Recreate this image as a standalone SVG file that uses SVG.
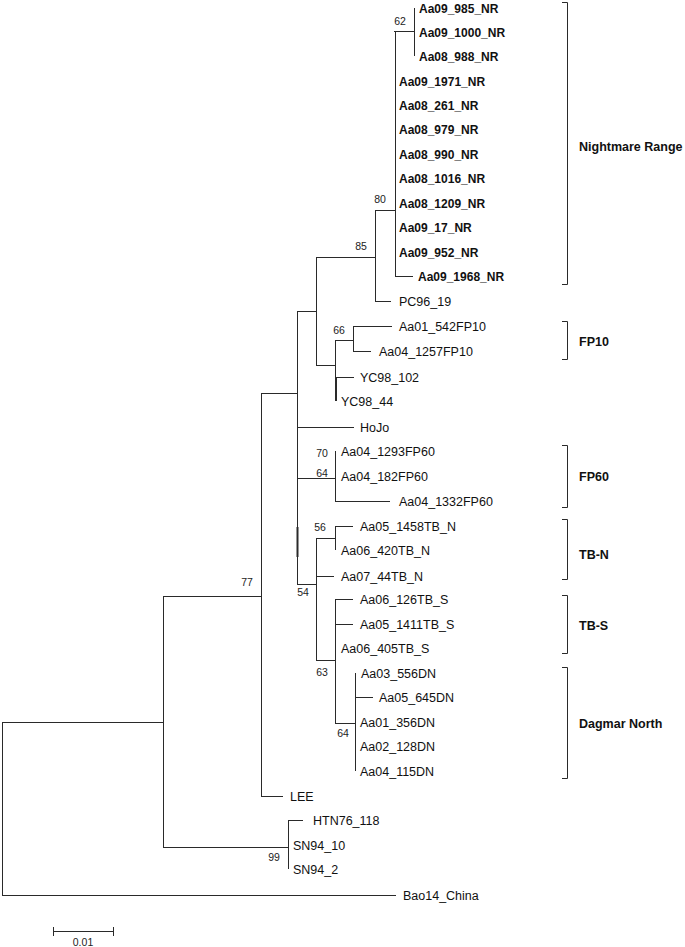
<svg xmlns="http://www.w3.org/2000/svg" width="685" height="947" viewBox="0 0 685 947">
<style>
.e{stroke:#2a2a2a;stroke-width:1;fill:none}
.t{font-family:"Liberation Sans",Arial,sans-serif;font-size:12.5px;fill:#111}
.b{font-family:"Liberation Sans",Arial,sans-serif;font-size:12px;font-weight:bold;fill:#111}
.s{font-family:"Liberation Sans",Arial,sans-serif;font-size:10.5px;fill:#222;text-anchor:middle}
.g{font-family:"Liberation Sans",Arial,sans-serif;font-size:12.5px;font-weight:bold;fill:#111}
</style>
<rect width="685" height="947" fill="#fff"/>
<g id="connectors" class="e">
<path d="M414.5,8V56M394,31.5H414.5"/>
<path d="M395.5,31V276M395,276.5H413M375,210.5H395.5"/>
<path d="M375.5,210V301M375,301.5H391M316,257.5H375.5"/>
<path d="M316.5,257V365M297,311.5H316.5"/>
<path d="M335.5,340V389M316,365.5H335.5"/>
<path d="M336,377V401" style="stroke-width:2"/>
<path d="M336,377.5H354"/>
<path d="M353.5,326V351M335,340.5H353.5M353,326.5H392M353,351.5H371"/>
<path d="M297.5,311V584M261,393.5H297.5M297,427.5H354"/>
<path d="M297.5,527V557" style="stroke-width:2"/>
<path d="M335.5,451V501M297,478.5H335.5M335,501.5H390"/>
<path d="M297,584.5H316.5M316.5,538V660"/>
<path d="M316,538.5H335.5M335.5,526V550M335,526.5H353M316,576.5H334"/>
<path d="M316,660.5H335.5M335.5,599V723M335,599.5H353M335,624.5H353"/>
<path d="M335,723.5H355.5M355.5,673V771M355,697.5H373"/>
<path d="M261.5,393V796M261,796.5H283M163,596.5H261.5"/>
<path d="M288.5,820V869M288,820.5H303M163,847.5H288.5"/>
<path d="M163.5,596V847M2,722.5H163.5"/>
<path d="M2.5,722V895M2,895.5H396"/>
</g>
<g id="leaves-nr">
<text class="b" x="419" y="12.5">Aa09_985_NR</text>
<text class="b" x="419" y="36.5">Aa09_1000_NR</text>
<text class="b" x="419" y="60.5">Aa08_988_NR</text>
<text class="b" x="399" y="85.5">Aa09_1971_NR</text>
<text class="b" x="399" y="109.5">Aa08_261_NR</text>
<text class="b" x="399" y="133.5">Aa08_979_NR</text>
<text class="b" x="399" y="158.5">Aa08_990_NR</text>
<text class="b" x="399" y="182.5">Aa08_1016_NR</text>
<text class="b" x="399" y="207.5">Aa08_1209_NR</text>
<text class="b" x="399" y="231.5">Aa09_17_NR</text>
<text class="b" x="399" y="256.5">Aa09_952_NR</text>
<text class="b" x="418" y="280.5">Aa09_1968_NR</text>
</g>
<g id="leaves">
<text class="t" x="399" y="305.5">PC96_19</text>
<text class="t" x="399" y="330.5">Aa01_542FP10</text>
<text class="t" x="379" y="355.5">Aa04_1257FP10</text>
<text class="t" x="360" y="381.5">YC98_102</text>
<text class="t" x="341" y="405.5">YC98_44</text>
<text class="t" x="360" y="431.5">HoJo</text>
<text class="t" x="341" y="455.5">Aa04_1293FP60</text>
<text class="t" x="341" y="480.5">Aa04_182FP60</text>
<text class="t" x="399" y="505.5">Aa04_1332FP60</text>
<text class="t" x="360" y="530.5">Aa05_1458TB_N</text>
<text class="t" x="341" y="554.5">Aa06_420TB_N</text>
<text class="t" x="341" y="580.5">Aa07_44TB_N</text>
<text class="t" x="360" y="603.5">Aa06_126TB_S</text>
<text class="t" x="360" y="628.5">Aa05_1411TB_S</text>
<text class="t" x="341" y="652.5">Aa06_405TB_S</text>
<text class="t" x="361" y="677.5">Aa03_556DN</text>
<text class="t" x="379" y="701.5">Aa05_645DN</text>
<text class="t" x="360" y="726.5">Aa01_356DN</text>
<text class="t" x="360" y="750.5">Aa02_128DN</text>
<text class="t" x="360" y="775.5">Aa04_115DN</text>
<text class="t" x="290" y="800.5">LEE</text>
<text class="t" x="313" y="824.5">HTN76_118</text>
<text class="t" x="293" y="849.5">SN94_10</text>
<text class="t" x="293" y="873.5">SN94_2</text>
<text class="t" x="403" y="899.5">Bao14_China</text>
</g>
<g id="support">
<text class="s" x="400" y="25">62</text>
<text class="s" x="380" y="203">80</text>
<text class="s" x="361" y="250">85</text>
<text class="s" x="339" y="334">66</text>
<text class="s" x="322" y="457">70</text>
<text class="s" x="322" y="477">64</text>
<text class="s" x="320" y="531">56</text>
<text class="s" x="303" y="596">54</text>
<text class="s" x="322" y="676">63</text>
<text class="s" x="343" y="737">64</text>
<text class="s" x="247" y="586">77</text>
<text class="s" x="274" y="861">99</text>
</g>
<g id="clades" class="e">
<path d="M562,2.5H567.5V284.5H562"/>
<path d="M562,321.5H567.5V359.5H562"/>
<path d="M562,445.5H567.5V507.5H562"/>
<path d="M562,519.5H567.5V579.5H562"/>
<path d="M562,595.5H567.5V653.5H562"/>
<path d="M562,667.5H567.5V778.5H562"/>
</g>
<g id="clade-labels">
<text class="g" x="579" y="150.5">Nightmare Range</text>
<text class="g" x="579" y="345.5">FP10</text>
<text class="g" x="579" y="480.5">FP60</text>
<text class="g" x="579" y="558.5">TB-N</text>
<text class="g" x="579" y="629.5">TB-S</text>
<text class="g" x="579" y="727.5">Dagmar North</text>
</g>
<g id="scale">
<path class="e" d="M53,931.5H114M53.5,927V936M113.5,927V936"/>
<text class="s" x="83" y="946">0.01</text>
</g>
</svg>
